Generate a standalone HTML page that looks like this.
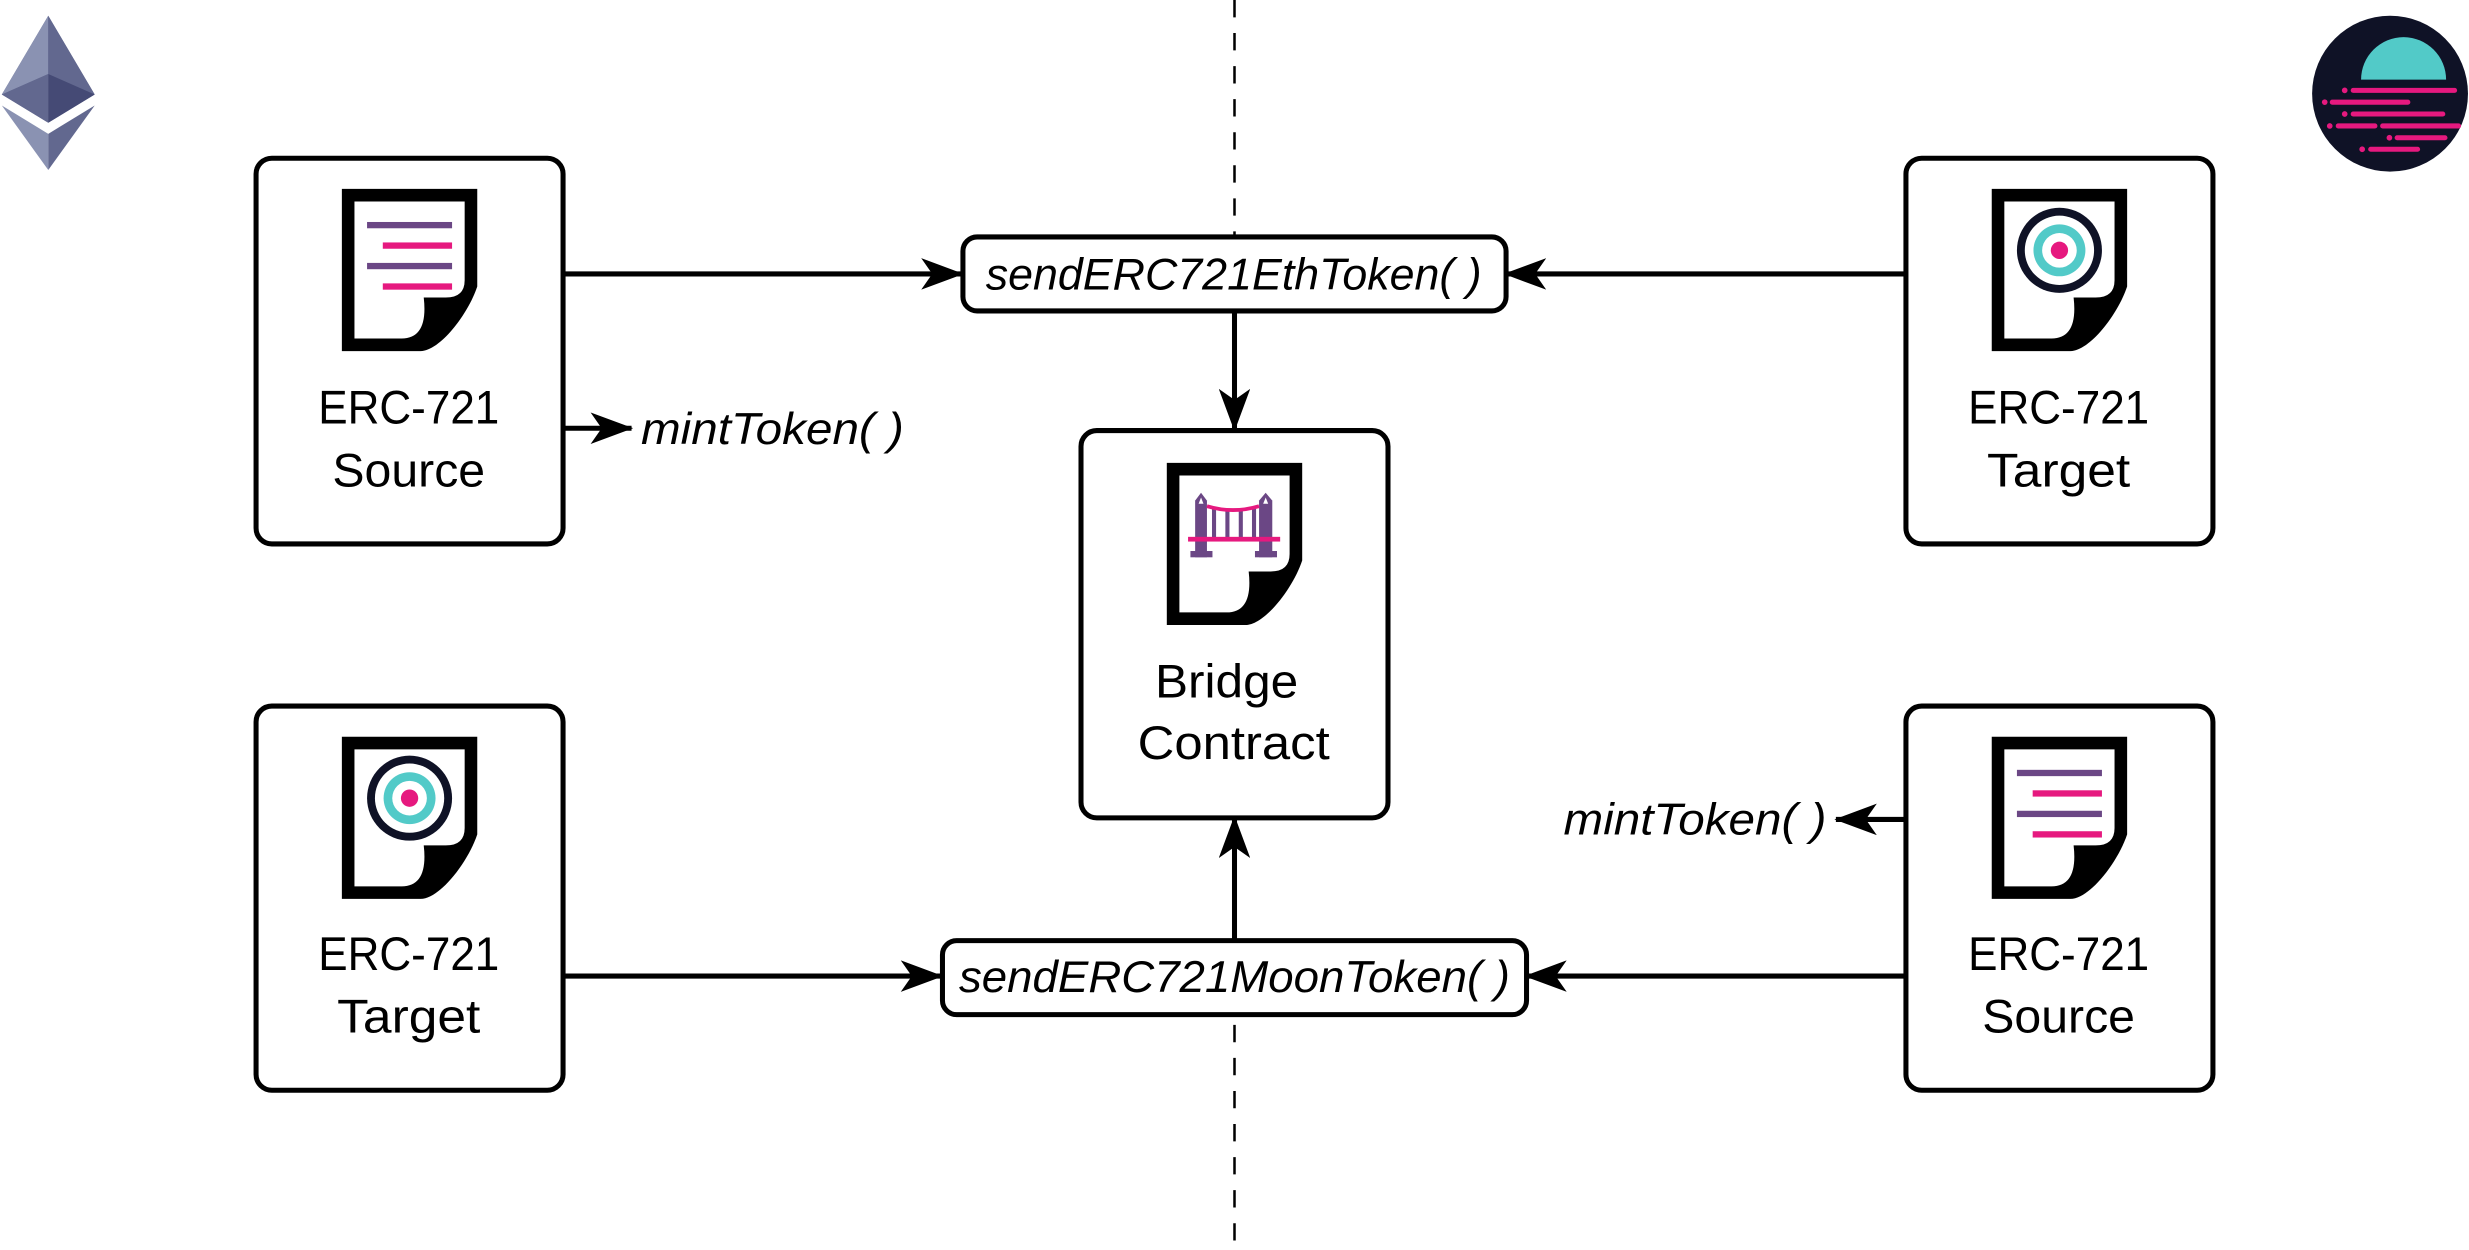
<!DOCTYPE html>
<html><head><meta charset="utf-8"><style>
html,body{margin:0;padding:0;background:#fff;}
svg{display:block;}
text{font-family:"Liberation Sans",sans-serif;}
</style></head><body>
<svg width="2469" height="1250" viewBox="0 0 1568 794" xmlns="http://www.w3.org/2000/svg">
<defs>
<marker id="ah" viewBox="0 0 27 20" refX="26" refY="10" markerWidth="27" markerHeight="20" markerUnits="userSpaceOnUse" orient="auto">
<path d="M0,0 L27,10 L0,20 L7,10 Z" fill="#000"/>
</marker>
<g id="doc">
<path d="M0,0 H86 V62 C80,80 62,103 50,103 H0 Z" fill="#000"/>
<path d="M8,8 H78 V58 Q78,69 66,69 H52 Q55,95 38,95 H8 Z" fill="#fff"/>
</g>
<g id="src">
<use href="#doc"/>
<rect x="16" y="21" width="54" height="4" fill="#6b4785"/>
<rect x="26" y="34" width="44" height="4" fill="#e6197f"/>
<rect x="16" y="47" width="54" height="4" fill="#6b4785"/>
<rect x="26" y="60" width="44" height="4" fill="#e6197f"/>
</g>
<g id="tgt">
<use href="#doc"/>
<circle cx="43" cy="39" r="27" fill="#0f1226"/>
<circle cx="43" cy="39" r="22" fill="#fff"/>
<circle cx="43" cy="39" r="16.5" fill="#52cac8"/>
<circle cx="43" cy="39" r="11" fill="#fff"/>
<circle cx="43" cy="39" r="5.5" fill="#e6197f"/>
</g>
</defs>

<!-- dashed divider -->
<line x1="784" y1="0" x2="784" y2="794" stroke="#000" stroke-width="1.6" stroke-dasharray="11 10"/>

<!-- Ethereum logo -->
<polygon points="30.5,10 60,60 30.5,78 1,60" fill="#62688f"/>
<polygon points="30.5,10 1,60 30.5,47" fill="#8a92b2"/>
<polygon points="30.5,10 60,60 30.5,47" fill="#62688f"/>
<polygon points="30.5,47 60,60 30.5,78" fill="#454a75"/>
<polygon points="30.5,47 1,60 30.5,78" fill="#62688f"/>
<polygon points="1,67 30.5,85 30.5,108" fill="#8a92b2"/>
<polygon points="60,67 30.5,85 30.5,108" fill="#62688f"/>

<!-- Moonbeam logo -->
<circle cx="1518" cy="59.5" r="49.5" fill="#0f1226"/>
<path d="M1499.6,50.6 A27,27 0 0 1 1553.6,50.6 Z" fill="#52cac8"/>
<g stroke="#e6197f" stroke-width="3.2" stroke-linecap="round">
<line x1="1494.6" y1="57.4" x2="1559" y2="57.4"/>
<line x1="1481.3" y1="64.9" x2="1529.3" y2="64.9"/>
<line x1="1494.6" y1="72.4" x2="1551.5" y2="72.4"/>
<line x1="1485.1" y1="80" x2="1508.4" y2="80"/>
<line x1="1513.3" y1="80" x2="1561.5" y2="80"/>
<line x1="1522.5" y1="87.5" x2="1552.9" y2="87.5"/>
<line x1="1505.7" y1="94.8" x2="1535.5" y2="94.8"/>
</g>
<g fill="#e6197f">
<circle cx="1489.2" cy="57.4" r="1.8"/><circle cx="1476.5" cy="64.9" r="1.8"/>
<circle cx="1489.2" cy="72.4" r="1.8"/><circle cx="1479.7" cy="80" r="1.8"/>
<circle cx="1517.6" cy="87.5" r="1.8"/><circle cx="1500.3" cy="94.8" r="1.8"/>
</g>

<!-- connectors -->
<g stroke="#000" stroke-width="3.2" fill="none">
<line x1="357" y1="174" x2="611" y2="174" marker-end="url(#ah)"/>
<line x1="1210" y1="174" x2="956" y2="174" marker-end="url(#ah)"/>
<line x1="784" y1="197" x2="784" y2="273" marker-end="url(#ah)"/>
<line x1="357" y1="620" x2="598" y2="620" marker-end="url(#ah)"/>
<line x1="1210" y1="620" x2="969" y2="620" marker-end="url(#ah)"/>
<line x1="784" y1="597" x2="784" y2="519" marker-end="url(#ah)"/>
<line x1="357" y1="272" x2="401" y2="272" marker-end="url(#ah)"/>
<line x1="1210" y1="520.5" x2="1166" y2="520.5" marker-end="url(#ah)"/>
</g>

<!-- boxes -->
<g fill="#fff" stroke="#000" stroke-width="3.2">
<rect x="162.5" y="100.5" width="195" height="245" rx="10"/>
<rect x="1210.5" y="100.5" width="195" height="245" rx="10"/>
<rect x="162.5" y="448.5" width="195" height="244" rx="10"/>
<rect x="1210.5" y="448.5" width="195" height="244" rx="10"/>
<rect x="686.5" y="273.5" width="195" height="246" rx="10"/>
<rect x="611.5" y="150.5" width="345" height="47" rx="9"/>
<rect x="598.5" y="597.5" width="371" height="47" rx="9"/>
</g>

<!-- icons -->
<use href="#src" x="217" y="120"/>
<use href="#tgt" x="1265" y="120"/>
<use href="#tgt" x="217" y="468"/>
<use href="#src" x="1265" y="468"/>

<use href="#doc" x="741" y="294"/>
<g fill="#6b4785">
<polygon points="759,354 759,318 762.75,313 766.5,318 766.5,354"/>
<rect x="756" y="350" width="14" height="4"/>
<polygon points="799.6,354 799.6,318 803.8,313 808,318 808,354"/>
<rect x="797" y="350" width="14" height="4"/>
<rect x="769.7" y="323" width="2.6" height="20"/>
<rect x="778.2" y="324" width="2.6" height="19"/>
<rect x="786.7" y="324" width="2.6" height="19"/>
<rect x="795.1" y="323" width="2.6" height="20"/>
</g>
<g fill="#fff"><polygon points="761.2,320 762.75,316 764.3,320"/><polygon points="802.2,320 803.8,316 805.4,320"/></g>
<path d="M766.5,321.5 Q783,326.5 799.6,321.5" stroke="#e6197f" stroke-width="2.4" fill="none"/>
<rect x="754.5" y="341" width="58.5" height="3" fill="#e6197f"/>

<!-- text -->
<g font-size="30" fill="#000" text-anchor="middle" font-weight="300">
<text x="259.5" y="269" textLength="115" lengthAdjust="spacingAndGlyphs">ERC-721</text>
<text x="259.5" y="309" textLength="97" lengthAdjust="spacingAndGlyphs">Source</text>
<text x="1307.5" y="269" textLength="115" lengthAdjust="spacingAndGlyphs">ERC-721</text>
<text x="1307.5" y="309" textLength="91" lengthAdjust="spacingAndGlyphs">Target</text>
<text x="259.5" y="616" textLength="115" lengthAdjust="spacingAndGlyphs">ERC-721</text>
<text x="259.5" y="656" textLength="91" lengthAdjust="spacingAndGlyphs">Target</text>
<text x="1307.5" y="616" textLength="115" lengthAdjust="spacingAndGlyphs">ERC-721</text>
<text x="1307.5" y="656" textLength="97" lengthAdjust="spacingAndGlyphs">Source</text>
<text x="779" y="443" textLength="91" lengthAdjust="spacingAndGlyphs">Bridge</text>
<text x="783.5" y="482" textLength="122" lengthAdjust="spacingAndGlyphs">Contract</text>
</g>
<g font-size="28" fill="#000" font-style="italic" font-weight="300">
<text x="626" y="184" textLength="315" lengthAdjust="spacingAndGlyphs">sendERC721EthToken( )</text>
<text x="609" y="630" textLength="350" lengthAdjust="spacingAndGlyphs">sendERC721MoonToken( )</text>
<text x="407" y="282" textLength="167" lengthAdjust="spacingAndGlyphs">mintToken( )</text>
<text x="993" y="530" textLength="167" lengthAdjust="spacingAndGlyphs">mintToken( )</text>
</g>
</svg>
</body></html>
